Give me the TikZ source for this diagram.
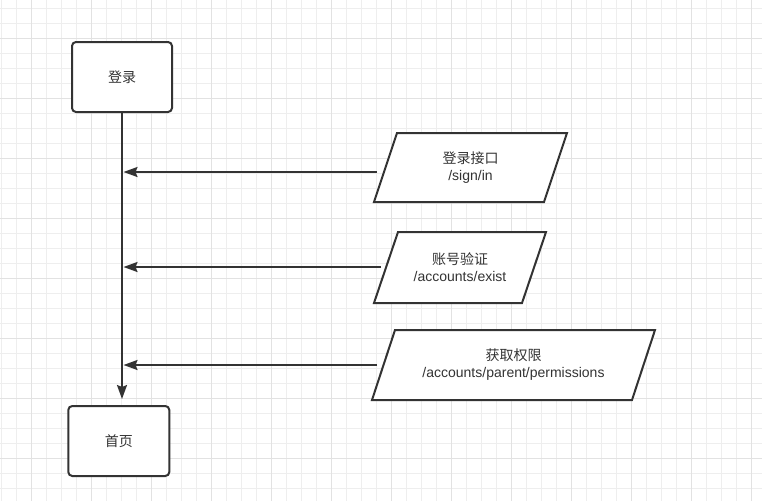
\documentclass[tikz,border=0pt]{standalone}
\usepackage{fontspec}
\setmainfont{Liberation Sans}
\newfontfamily\cjk{Noto Sans CJK SC}
\usetikzlibrary{arrows.meta,calc}
\definecolor{ink}{HTML}{333333}
\definecolor{gridminor}{HTML}{EEEEEE}
\definecolor{gridmajor}{HTML}{E2E2E2}
\begin{document}
\begin{tikzpicture}[x=1pt,y=-1pt,
  box/.style={draw=ink, line width=2pt, rounded corners=4pt, fill=white,
    minimum height=70pt, inner sep=0pt, text=ink,
    font=\cjk\fontsize{14}{17}\selectfont},
  lbl/.style={align=center, inner sep=0pt, text=ink,
    font=\fontsize{14}{17}\selectfont},
  para/.style={draw=ink, line width=2pt, fill=white, line join=miter},
  flow/.style={draw=ink, line width=2pt,
    -{Stealth[length=14pt,width=10pt,inset=2pt]}},
  gminor/.style={draw=gridminor, line width=1pt},
  gmajor/.style={draw=gridmajor, line width=1pt}
]
\useasboundingbox (0,0) rectangle (762,501);
\fill[white] (0,0) rectangle (762,501);
% grid
\foreach \i in {0,...,50} { \draw[gminor] (1.5+15*\i,0) -- (1.5+15*\i,501); }
\foreach \i in {0,...,32} { \draw[gminor] (0,8.3+15*\i) -- (762,8.3+15*\i); }
\foreach \i in {0,...,12} { \draw[gmajor] (31.5+60*\i,0) -- (31.5+60*\i,501); }
\foreach \i in {0,...,7} { \draw[gmajor] (0,38.3+60*\i) -- (762,38.3+60*\i); }

% boxes
\node[box, minimum width=100pt] (login) at (122,77) {登录};
\node[box, minimum width=101pt] (home) at (118.8,441) {首页};

% parallelograms
\coordinate (c1) at (470.5,167.5);
\draw[para] ($(c1)+(-73.5,-34.5)$) -- ($(c1)+(96.5,-34.5)$) -- ($(c1)+(73.5,34.5)$) -- ($(c1)+(-96.5,34.5)$) -- cycle;
\node[lbl] (p1) at (c1) {{\cjk 登录接口}\\/sign/in};

\coordinate (c2) at (460,267.5);
\draw[para] ($(c2)+(-62,-35.5)$) -- ($(c2)+(86,-35.5)$) -- ($(c2)+(62,35.5)$) -- ($(c2)+(-86,35.5)$) -- cycle;
\node[lbl] (p2) at (c2) {{\cjk 账号验证}\\/accounts/exist};

\coordinate (c3) at (513.5,365);
\draw[para] ($(c3)+(-118.5,-35)$) -- ($(c3)+(141.5,-35)$) -- ($(c3)+(118.5,35)$) -- ($(c3)+(-141.5,35)$) -- cycle;
\node[lbl] (p3) at (c3) {{\cjk 获取权限}\\/accounts/parent/permissions};

% connectors
\draw[flow] (login.south) -- ($(login.south |- home.north)+(0,-6)$);
\coordinate (s1) at (377,172);
\coordinate (s2) at (381,267);
\coordinate (s3) at (377,365);
\draw[flow] (s1) -- ($(s1 -| login.south)+(1.5,0)$);
\draw[flow] (s2) -- ($(s2 -| login.south)+(1.5,0)$);
\draw[flow] (s3) -- ($(s3 -| login.south)+(1.5,0)$);
\end{tikzpicture}
\end{document}
